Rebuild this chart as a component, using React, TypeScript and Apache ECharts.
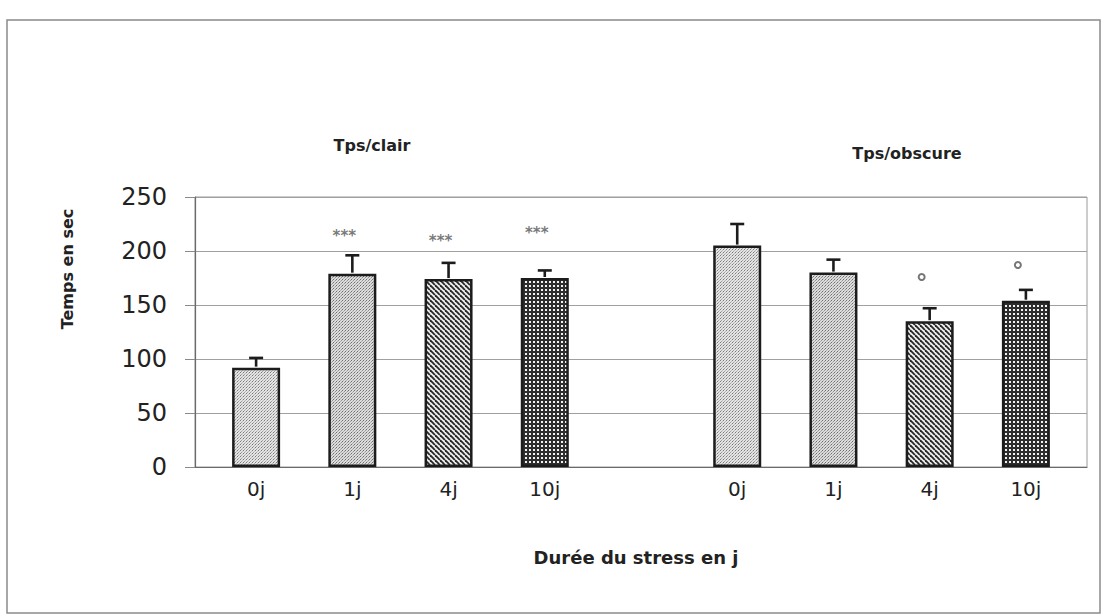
import React, { useEffect, useRef } from "react";
import * as echarts from "echarts";

const categories = ["0j", "1j", "4j", "10j", "", "0j", "1j", "4j", "10j"];
const clairMeans = [92, 179, 174, 175];
const clairErrors = [9, 17, 15, 7];
const obscureMeans = [205, 180, 135, 154];
const obscureErrors = [20, 12, 12, 10];
const clairStars = [218, 213, 220]; // *** above 1j, 4j, 10j (clair)
const obscureCircles = [176, 187]; // ° above 4j, 10j (obscure)
const yTicks = [0, 50, 100, 150, 200, 250];
const groupTitles = ["Tps/clair", "Tps/obscure"];
const yTitle = "Temps en sec";
const xTitle = "Durée du stress en j";

const WIDE = "'DejaVu Sans', 'Liberation Sans', sans-serif";

function makePattern(kind: string): HTMLCanvasElement {
  const c = document.createElement("canvas");
  const ctx = c.getContext("2d")!;
  if (kind === "dotsLight") {
    c.width = 3; c.height = 3;
    ctx.fillStyle = "#e4e4e4"; ctx.fillRect(0, 0, 3, 3);
    ctx.fillStyle = "#7a7a7a"; ctx.fillRect(0, 0, 1, 1);
    ctx.fillStyle = "#a0a0a0"; ctx.fillRect(1, 2, 1, 1);
    ctx.fillStyle = "#b8b8b8"; ctx.fillRect(2, 1, 1, 1);
  } else if (kind === "dotsMed") {
    c.width = 3; c.height = 3;
    ctx.fillStyle = "#dcdcdc"; ctx.fillRect(0, 0, 3, 3);
    ctx.fillStyle = "#6e6e6e"; ctx.fillRect(0, 0, 1, 1);
    ctx.fillStyle = "#929292"; ctx.fillRect(2, 1, 1, 1);
    ctx.fillStyle = "#acacac"; ctx.fillRect(1, 2, 1, 1);
  } else if (kind === "diag") {
    c.width = 5; c.height = 5;
    ctx.fillStyle = "#eeeeee"; ctx.fillRect(0, 0, 5, 5);
    ctx.strokeStyle = "#262626"; ctx.lineWidth = 1.8;
    for (const o of [-5, 0, 5]) {
      ctx.beginPath(); ctx.moveTo(o, 0); ctx.lineTo(o + 5, 5); ctx.stroke();
    }
  } else {
    c.width = 4; c.height = 4;
    ctx.fillStyle = "#2e2e2e"; ctx.fillRect(0, 0, 4, 4);
    ctx.fillStyle = "#f2f2f2"; ctx.fillRect(1, 1, 2, 2);
  }
  return c;
}

export default function App() {
  const ref = useRef<HTMLDivElement>(null);
  useEffect(() => {
    if (!ref.current) return;
    const chart = echarts.init(ref.current, null, { renderer: "svg" });
    const kinds = ["dotsLight", "dotsMed", "diag", "grid"];
    const pats = kinds.map((k) => ({ image: makePattern(k), repeat: "repeat" }));
    const barItem = (v: number, i: number) => ({
      value: v,
      itemStyle: { color: pats[i] as any, borderColor: "#1c1c1c", borderWidth: 2.5 },
    });
    const barData: any[] = [
      ...clairMeans.map((v, i) => barItem(v, i)),
      "-",
      ...obscureMeans.map((v, i) => barItem(v, i)),
    ];
    const errData: any[] = [
      ...clairMeans.map((v, i) => [i, v, clairErrors[i]]),
      ...obscureMeans.map((v, i) => [i + 5, v, obscureErrors[i]]),
    ];
    const starData = clairStars.map((v, i) => [i + 1, v]);
    const circleData = obscureCircles.map((v, i) => [i + 7, v]);

    chart.setOption({
      animation: false,
      backgroundColor: "#ffffff",
      grid: [
        { left: 195, right: 17, top: 197, bottom: 149, show: true, borderColor: "#9a9a9a", borderWidth: 1 },
        { left: 208, right: 30, top: 197, bottom: 149 },
      ],
      xAxis: [
        {
          type: "category", gridIndex: 0, data: [""],
          axisLine: { show: true, lineStyle: { color: "#6a6a6a", width: 1.2 } },
          axisTick: { show: false }, axisLabel: { show: false },
        },
        {
          type: "category", gridIndex: 1, data: categories,
          axisLine: { show: false }, axisTick: { show: false },
          axisLabel: { fontSize: 20, color: "#222", fontFamily: WIDE, margin: 12 },
        },
      ],
      yAxis: [
        {
          type: "value", gridIndex: 0, min: 0, max: 250, interval: 50,
          axisLine: { show: true, lineStyle: { color: "#6a6a6a", width: 1.2 } },
          axisTick: { show: true, inside: false, length: 10, lineStyle: { color: "#8a8a8a" } },
          splitLine: { show: true, lineStyle: { color: "#a0a0a0", width: 1 } },
          axisLabel: {
            fontSize: 24, color: "#222", fontFamily: WIDE, margin: 28,
            formatter: (v: number) => (yTicks.includes(v) ? String(v) : ""),
          },
        },
        {
          type: "value", gridIndex: 1, min: 0, max: 250, interval: 50,
          show: false, splitLine: { show: false },
        },
      ],
      series: [
        {
          type: "bar", xAxisIndex: 1, yAxisIndex: 1, data: barData,
          barWidth: 48,
        },
        {
          type: "custom", xAxisIndex: 1, yAxisIndex: 1, data: errData,
          renderItem: (params: any, api: any) => {
            const x = api.value(0);
            const m = api.value(1);
            const e = api.value(2);
            const p0 = api.coord([x, m]);
            const p1 = api.coord([x, m + e]);
            const cap = 7;
            const style = { stroke: "#1c1c1c", lineWidth: 2.6 };
            return {
              type: "group",
              children: [
                { type: "line", shape: { x1: p0[0], y1: p0[1] - 1, x2: p1[0], y2: p1[1] }, style },
                { type: "line", shape: { x1: p1[0] - cap, y1: p1[1], x2: p1[0] + cap, y2: p1[1] }, style },
              ],
            };
          },
          z: 5,
        },
        {
          type: "scatter", xAxisIndex: 1, yAxisIndex: 1, data: starData,
          symbolSize: 1, itemStyle: { color: "transparent" },
          label: {
            show: true, position: "inside", formatter: "***", offset: [-8, 4],
            fontSize: 15, fontWeight: "bold", color: "#555", fontFamily: WIDE,
          },
        },
        {
          type: "scatter", xAxisIndex: 1, yAxisIndex: 1, data: circleData,
          symbol: "emptyCircle", symbolSize: 6, symbolOffset: [-8, 0],
          itemStyle: { color: "#555", borderColor: "#555", borderWidth: 1.6 },
          z: 6,
        },
      ],
      graphic: [
        {
          type: "rect", shape: { x: 7, y: 20, width: 1093, height: 593 },
          style: { fill: "none", stroke: "#8a8a8a", lineWidth: 1.5 }, silent: true, z: -10,
        },
        {
          type: "text", x: 372, y: 145,
          style: { text: groupTitles[0], font: "bold 16px " + WIDE, fill: "#222", align: "center", verticalAlign: "middle" },
        },
        {
          type: "text", x: 907, y: 153,
          style: { text: groupTitles[1], font: "bold 16px " + WIDE, fill: "#222", align: "center", verticalAlign: "middle" },
        },
        {
          type: "text", x: 67, y: 269, rotation: Math.PI / 2,
          style: { text: yTitle, font: "bold 16px " + WIDE, fill: "#222", align: "center", verticalAlign: "middle" },
        },
        {
          type: "text", x: 636, y: 557,
          style: { text: xTitle, font: "bold 18px " + WIDE, fill: "#222", align: "center", verticalAlign: "middle" },
        },
      ],
    });
    return () => chart.dispose();
  }, []);
  return <div ref={ref} style={{ position: "fixed", left: 0, top: 0, width: 1104, height: 616 }} />;
}
